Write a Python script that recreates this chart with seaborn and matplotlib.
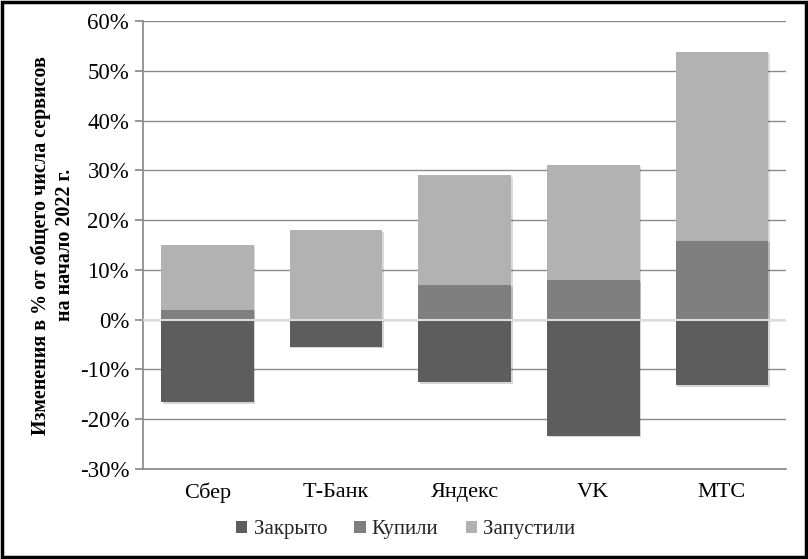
import matplotlib
matplotlib.use("Agg")
import matplotlib.pyplot as plt
import matplotlib.patheffects as pe
import seaborn as sns
import pandas as pd
import numpy as np
from matplotlib.patches import Rectangle, Patch
from matplotlib.ticker import FuncFormatter

categories = ["Сбер", "Т-Банк", "Яндекс", "VK", "МТС"]
closed = [-16.5, -5.4, -12.5, -23.3, -13.1]      # Закрыто
bought = [2.0, 0.0, 7.0, 7.9, 15.9]              # Купили
launched = [13.0, 18.0, 22.1, 23.2, 38.0]        # Запустили
series_names = ["Закрыто", "Купили", "Запустили"]
colors = ["#5d5d5d", "#7f7f7f", "#b2b2b2"]

sns.set_theme(style="white")
plt.rcParams['font.family'] = ['Liberation Serif', 'DejaVu Serif']

df = pd.DataFrame({"cat": categories, "closed": closed, "bought": bought,
                   "launched": launched})
df["top"] = df["bought"] + df["launched"]

fig = plt.figure(figsize=(8.08, 5.59), dpi=100)
ax = fig.add_axes([0.177, 0.161, 0.796, 0.801])

bw = 0.72
for col, c in [("top", colors[2]), ("bought", colors[1]), ("closed", colors[0])]:
    sns.barplot(data=df, x="cat", y=col, color=c, width=bw, ax=ax,
                saturation=1, zorder=3, edgecolor="none")

shadow = [pe.SimplePatchShadow(offset=(1.2, -1.2), alpha=0.18), pe.Normal()]
for p in ax.patches:
    p.set_path_effects(shadow)

ax.set_ylim(-30, 60)
ax.set_xlim(-0.5, len(categories) - 0.5)
ax.set_yticks(np.arange(-30, 61, 10))
ax.yaxis.set_major_formatter(FuncFormatter(lambda v, p: f"{int(v)}%"))
ax.grid(axis="y", color="#8a8a8a", linewidth=1.0, zorder=0)
ax.set_axisbelow(True)
ax.axhline(0, color="#dcdcdc", linewidth=1.5, zorder=5)

for s in ["top", "right"]:
    ax.spines[s].set_visible(False)
ax.spines["left"].set_color("#8a8a8a")
ax.spines["bottom"].set_color("#8a8a8a")
ax.tick_params(axis="y", direction="out", length=6, color="#8a8a8a",
               labelsize=16.5, pad=4, left=True, labelcolor="black")
ax.tick_params(axis="x", length=0, labelsize=16, pad=10, labelcolor="black")
ax.set_xlabel("")
ax.set_ylabel("Изменения в % от общего числа сервисов\nна начало 2022 г.",
              fontsize=14.4, fontweight="bold", labelpad=3, linespacing=1.3,
              color="black")

handles = [Patch(facecolor=c, edgecolor="none") for c in colors]
fig.legend(handles, series_names, loc="center", bbox_to_anchor=(0.502, 0.052),
           ncol=3, frameon=False, fontsize=15, handlelength=0.55,
           handleheight=0.55, handletextpad=0.3, columnspacing=1.3)

fig.patches.append(Rectangle((0.002, 0.003), 0.996, 0.994,
                             transform=fig.transFigure, fill=False,
                             edgecolor="black", linewidth=2.5))

fig.savefig("out.png", dpi=100, facecolor="white")
